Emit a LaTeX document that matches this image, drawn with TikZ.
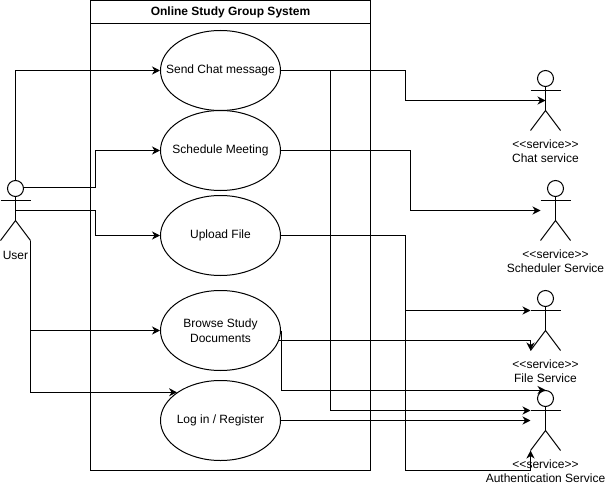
\documentclass[tikz,border=0pt]{standalone}
\usepackage{fontspec}
\setmainfont{Liberation Sans}
\usetikzlibrary{shapes.geometric,arrows.meta}
\tikzset{
  base/.style={line width=1pt, font=\fontsize{12}{14.5}\selectfont},
  usecase/.style={base, draw, ellipse, fill=white, align=center, inner xsep=-20pt, inner ysep=0pt, minimum width=120pt, minimum height=80pt},
  sysbox/.style={base, draw, inner sep=0pt, minimum width=280pt},
  head/.style={draw, circle, line width=1pt, inner sep=0pt, minimum size=16pt},
  stick/.style={line width=1pt},
  actorlabel/.style={base, align=center, anchor=north, inner sep=0pt},
  flow/.style={line width=1pt, -{Stealth[length=8pt,width=8pt,inset=2.5pt]}}
}
% name, x, y of head centre, label
\newcommand{\actor}[4]{
\node[head] (#1) at (#2,#3){};
\coordinate (#1-arml) at (#2-15,#3+12);
\coordinate (#1-armr) at (#2+15,#3+12);
\coordinate (#1-hip) at (#2,#3+32);
\coordinate (#1-mid) at (#2,#3+22);
\coordinate (#1-midl) at (#2-15,#3+22);
\coordinate (#1-footl) at (#2-15,#3+52);
\coordinate (#1-footr) at (#2+15,#3+52);
\draw[stick](#1-arml) -- (#1-armr);
\draw[stick](#1) -- (#1-hip);
\draw[stick](#1-footl) -- (#1-hip) -- (#1-footr);
\node[actorlabel] (#1-label) at (#2,#3+60.5){#4};
}
\begin{document}
\begin{tikzpicture}[x=1pt,y=-1pt]
\useasboundingbox (0,0) rectangle (605,487);
\node[sysbox, minimum height=470pt] (system) at (230.5,235.5){};
\node[sysbox, minimum height=23pt, font=\fontsize{12}{14.5}\selectfont\bfseries] (title) at (230.5,12){Online Study Group System};
\node[usecase] (send) at (220.5,70.5){Send Chat message};
\node[usecase] (sched) at (220.5,150.5){Schedule Meeting};
\node[usecase] (upload) at (220.5,235.5){Upload File};
\node[usecase] (browse) at (220.5,330.5){Browse Study\\Documents};
\node[usecase] (login) at (220.5,420.5){Log in / Register};
\actor{user}{15.5}{188.5}{\strut User}
\actor{chat}{545.5}{78.5}{<{}<service>{}>\\Chat service}
\actor{scheduler}{555.5}{188.5}{<{}<service>{}>\\Scheduler Service}
\actor{file}{545.5}{298.5}{<{}<service>{}>\\File Service}
\actor{auth}{545.5}{398.5}{<{}<service>{}>\\Authentication Service}
% user side
\draw[flow](user.north) |- (send.west);
\draw[flow](user.10) -| (95.5,150.5) -- (sched.west);
\draw[flow](user-mid) -| (95.5,235.5) -- (upload.west);
\draw[flow](user-footr) |- (browse.west);
\draw[flow](user-footr) |- (login.147);
% service side
\draw[flow](send.east) -| (405.5,100.5) -- (chat-mid);
\draw[flow](send.east) -| (330.5,410.5) -- (auth-arml);
\draw[flow](sched.east) -| (410.5,210.5) -- (scheduler-midl);
\draw[flow](upload.east) -| (405.5,310.5) -- (file-arml);
\draw[flow](upload.east) -| (405.5,470.5) -| (auth-footl);
\draw[flow](browse.-10) -| (file-footl);
\draw[flow](browse.east) |- (auth.north);
\draw[flow](login.east) -- (auth-midl);
\end{tikzpicture}
\end{document}
